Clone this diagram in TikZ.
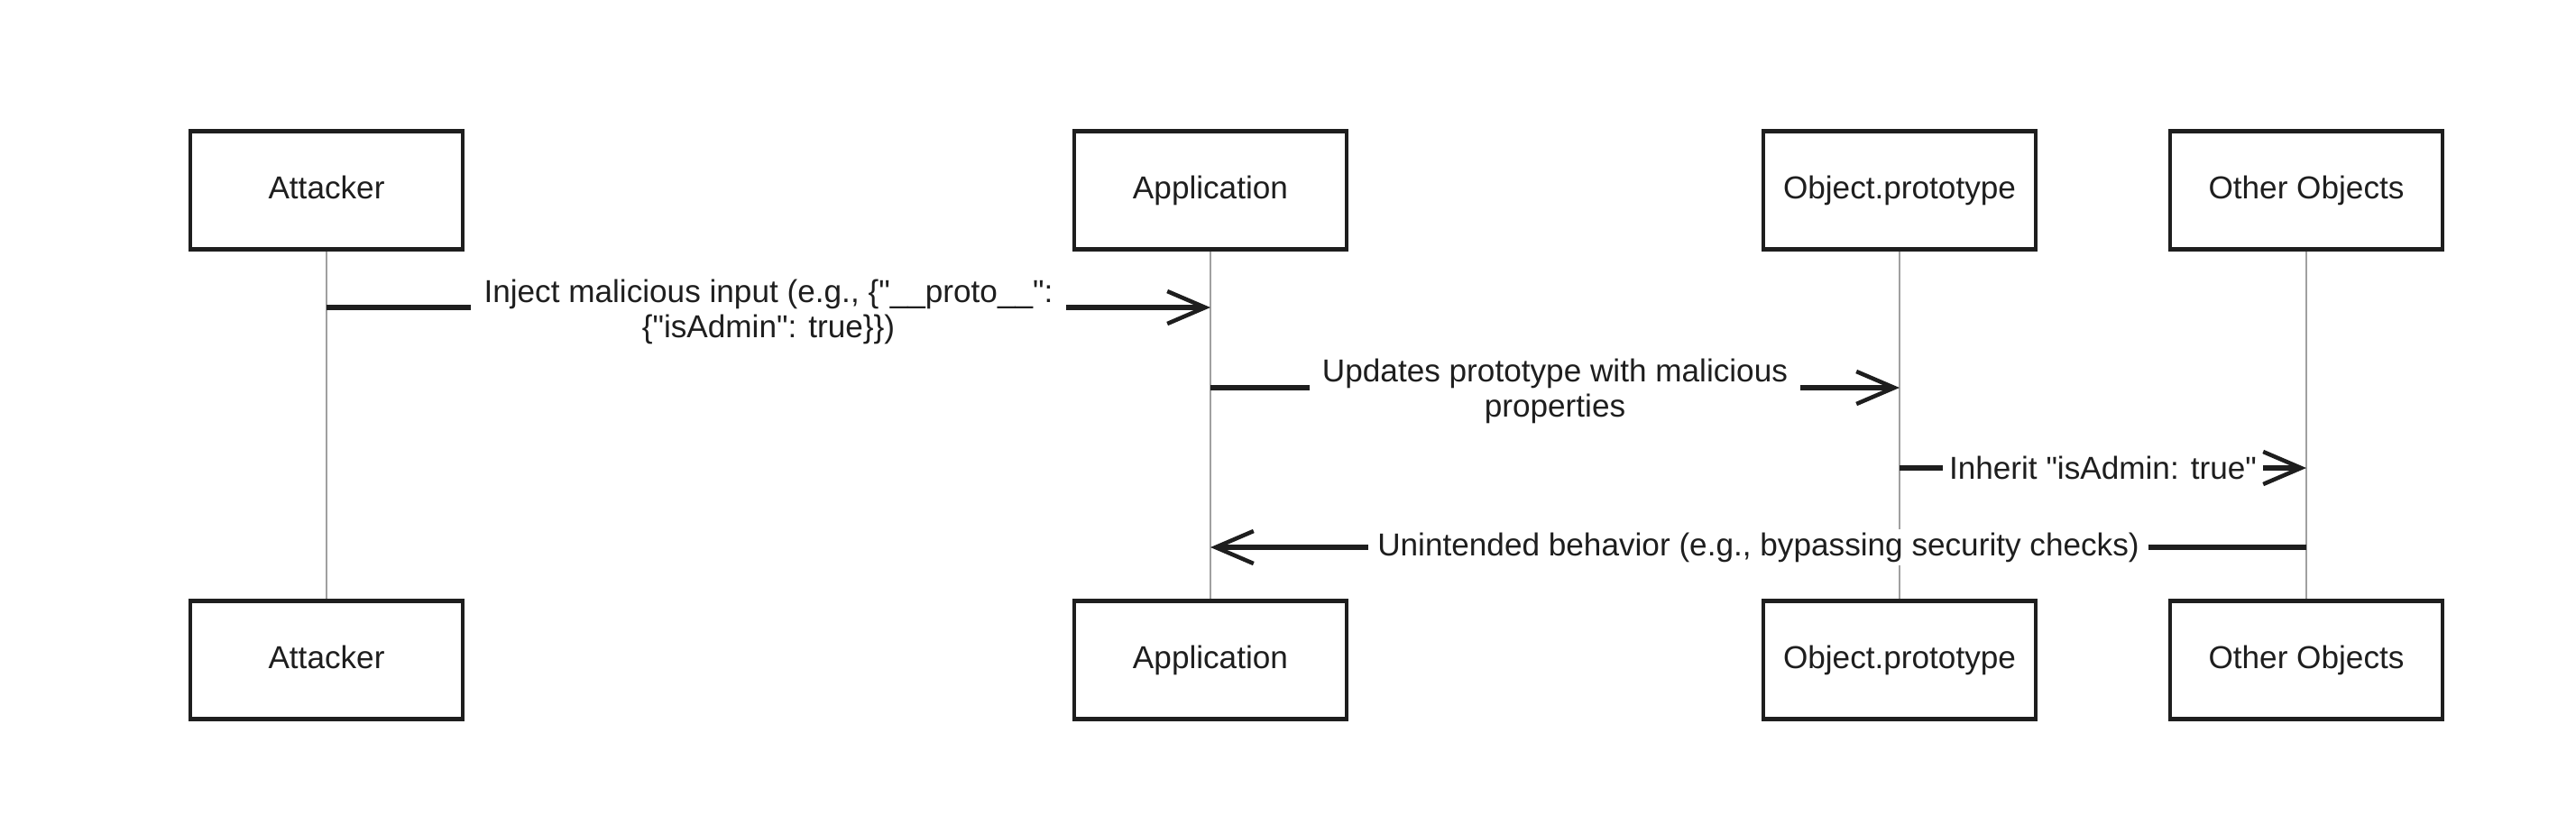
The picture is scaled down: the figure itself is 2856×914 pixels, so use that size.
\documentclass[tikz,border=0pt]{standalone}
\usepackage{fontspec}
\setmainfont{Liberation Sans}[Ligatures=TeXOff]
\usetikzlibrary{arrows.meta}
\definecolor{ink}{HTML}{1E1E1E}
\definecolor{life}{HTML}{A0A0A0}
\tikzset{
  actor/.style={draw=ink, line width=1.2pt, fill=white, minimum width=3.02cm, minimum height=1.31cm, inner sep=0pt, text height=7.4pt, text depth=2.2pt, font=\fontsize{10}{12}\selectfont, text=ink},
  lifeline/.style={draw=life, line width=0.45pt},
  msg/.style={draw=ink, line width=1.5pt, -{Straight Barb[length=0.42cm, width=0.36cm, line width=1.3pt]}},
  msglabel/.style={fill=white, align=center, inner xsep=4pt, inner ysep=1pt, font=\fontsize{10}{11}\selectfont, text=ink}
}
\begin{document}
\begin{tikzpicture}[x=0.01cm, y=-0.01cm]
\useasboundingbox (0,0) rectangle (2856,914);
\node[actor] (at) at (362,211) {Attacker};
\node[actor] (ap) at (1342,211) {Application};
\node[actor] (op) at (2106,211) {Object.prototype};
\node[actor] (oo) at (2557,211) {Other Objects};
\node[actor] (atb) at (362,732) {Attacker};
\node[actor] (apb) at (1342,732) {Application};
\node[actor] (opb) at (2106,732) {Object.prototype};
\node[actor] (oob) at (2557,732) {Other Objects};
\draw[lifeline] (at.south) -- (atb.north);
\draw[lifeline] (ap.south) -- (apb.north);
\draw[lifeline] (op.south) -- (opb.north);
\draw[lifeline] (oo.south) -- (oob.north);
\coordinate (m1s) at (at.south |- 0,341);
\coordinate (m1e) at (ap.south |- 0,341);
\coordinate (m2s) at (ap.south |- 0,430);
\coordinate (m2e) at (op.south |- 0,430);
\coordinate (m3s) at (op.south |- 0,519);
\coordinate (m3e) at (oo.south |- 0,519);
\coordinate (m4s) at (oo.south |- 0,607);
\coordinate (m4e) at (ap.south |- 0,607);
\draw[msg] (m1s) -- (m1e) node[midway, yshift=-0.05cm, msglabel] {Inject malicious input (e.g., \{"\_\_proto\_\_":\\\{"isAdmin": true\}\})};
\draw[msg] (m2s) -- (m2e) node[midway, yshift=-0.04cm, msglabel] {Updates prototype with malicious\\properties};
\draw[msg] (m3s) -- (m3e) node[midway, msglabel, inner xsep=2pt] {Inherit "isAdmin: true"};
\draw[msg] (m4s) -- (m4e) node[midway, msglabel, inner xsep=3pt] {Unintended behavior (e.g., bypassing security checks)};
\end{tikzpicture}
\end{document}
